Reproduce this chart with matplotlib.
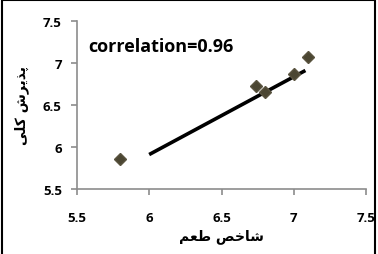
import matplotlib
matplotlib.use("Agg")
from matplotlib import pyplot as plt
from matplotlib.patches import Rectangle

# data
taste_index = [5.8, 6.74, 6.8, 7.0, 7.1]
overall_accept = [5.86, 6.72, 6.65, 6.87, 7.07]
trend_x = [6.01, 7.07]
trend_y = [5.92, 6.9]
x_ticks = [5.5, 6, 6.5, 7, 7.5]
y_ticks = [5.5, 6, 6.5, 7, 7.5]

# Persian labels in presentation forms (visual order) since matplotlib does no shaping
xlabel_text = "\uFEE2\uFECC\uFEC3 \uFEBA\uFEA7\uFE8E\uFEB7"          # شاخص طعم
ylabel_text = "\uFBFD\uFEE0\uFB90 \uFEB5\uFEAE\uFBFE\uFEAC\uFB58"    # پذیرش کلی

plt.rcParams['font.family'] = ['Open Sans', 'DejaVu Sans']

fig = plt.figure(figsize=(3.78, 2.55), dpi=100)
ax = fig.add_axes([0.204, 0.255, 0.764, 0.659])

ax.plot(trend_x, trend_y, color='black', linewidth=2.6, zorder=2)
ax.plot(taste_index, overall_accept, linestyle='none', marker='D', markersize=6.5,
        color='#4b4632', markeredgecolor='#5a5440', zorder=3)

ax.set_xlim(5.5, 7.5)
ax.set_ylim(5.5, 7.5)
ax.set_xticks(x_ticks)
ax.set_yticks(y_ticks)
ax.set_xticklabels([f"{v:g}" for v in x_ticks], fontweight='bold', fontsize=9.5)
ax.set_yticklabels([f"{v:g}" for v in y_ticks], fontweight='bold', fontsize=9.5)

for side in ['top', 'right']:
    ax.spines[side].set_visible(False)
for side in ['left', 'bottom']:
    ax.spines[side].set_color('#8c8c8c')
    ax.spines[side].set_linewidth(1.2)
ax.tick_params(colors='#8c8c8c', labelcolor='black', length=4, width=1.2)
ax.tick_params(axis='x', pad=12)
ax.tick_params(axis='y', pad=7)

ax.set_xlabel(xlabel_text, family=['DejaVu Sans'], fontweight='bold', fontsize=10, labelpad=3)
ax.set_ylabel(ylabel_text, family=['DejaVu Sans'], fontweight='bold', fontsize=10, labelpad=10)

ax.text(5.575, 7.2, "correlation=0.96", fontweight='bold', fontsize=13, va='center', ha='left')

# black frame around the figure
fig.patches.append(Rectangle((0.006, -0.05), 0.986, 1.045, transform=fig.transFigure,
                             fill=False, edgecolor='black', linewidth=1.5))

fig.savefig("out.png", dpi=100)
